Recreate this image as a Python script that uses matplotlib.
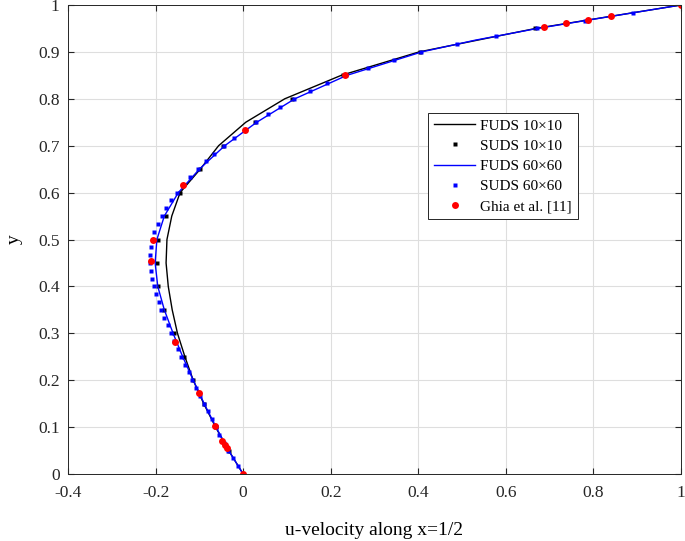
import numpy as np
import matplotlib.pyplot as plt

plt.rcParams['font.family'] = ['Liberation Serif', 'DejaVu Serif']

# Ghia et al. reference data (u along vertical centreline)
y_ghia = [0.0, 0.0547, 0.0625, 0.0703, 0.1016, 0.1719, 0.2813, 0.4531, 0.5,
          0.6172, 0.7344, 0.8516, 0.9531, 0.9609, 0.9688, 0.9766, 1.0]
u_ghia = [0.0, -0.0372, -0.0419, -0.0478, -0.0643, -0.1015, -0.1566, -0.2109, -0.2058,
          -0.1364, 0.0033, 0.2315, 0.6872, 0.7372, 0.7887, 0.8412, 1.0]

# FUDS 10x10 (black line)
y_f10 = [0.0, 0.05, 0.1, 0.15, 0.2, 0.25, 0.3, 0.35, 0.4, 0.45, 0.5, 0.55, 0.6, 0.65,
         0.7, 0.75, 0.8, 0.85, 0.9, 0.95, 1.0]
u_f10 = [0.0, -0.033, -0.063, -0.090, -0.114, -0.133, -0.150, -0.162, -0.171, -0.176,
         -0.174, -0.163, -0.144, -0.098, -0.056, 0.006, 0.095, 0.224, 0.402, 0.668, 1.0]

# SUDS 10x10 (black squares)
y_s10 = [0.05, 0.1, 0.15, 0.2, 0.25, 0.3, 0.35, 0.4, 0.45, 0.5, 0.55, 0.6, 0.65,
         0.7, 0.75, 0.8, 0.85, 0.9, 0.95]
u_s10 = [-0.032, -0.062, -0.089, -0.114, -0.136, -0.159, -0.181, -0.194, -0.197, -0.194,
         -0.176, -0.144, -0.098, -0.045, 0.028, 0.112, 0.228, 0.404, 0.667]

# FUDS 60x60 (blue line)
y_f60 = [0.0, 0.05, 0.1, 0.15, 0.2, 0.25, 0.3, 0.35, 0.4, 0.45, 0.5, 0.55, 0.6, 0.65,
         0.7, 0.75, 0.8, 0.85, 0.9, 0.925, 0.95, 0.975, 1.0]
u_f60 = [0.0, -0.033, -0.062, -0.089, -0.114, -0.138, -0.160, -0.180, -0.195, -0.201,
         -0.197, -0.180, -0.148, -0.100, -0.042, 0.031, 0.118, 0.237, 0.408, 0.530, 0.672,
         0.835, 1.0]

# SUDS 60x60 (blue squares)
y_s60 = [0.0167, 0.0333, 0.05, 0.0667, 0.0833, 0.1, 0.1167, 0.1333, 0.15, 0.1667,
         0.1833, 0.2, 0.2167, 0.2333, 0.25, 0.2667, 0.2833, 0.3, 0.3167, 0.3333,
         0.35, 0.3667, 0.3833, 0.4, 0.4167, 0.4333, 0.45, 0.4667, 0.4833, 0.5,
         0.5167, 0.5333, 0.55, 0.5667, 0.5833, 0.6, 0.6167, 0.6333, 0.65, 0.6667,
         0.6833, 0.7, 0.7167, 0.7333, 0.75, 0.7667, 0.7833, 0.8, 0.8167, 0.8333,
         0.85, 0.8667, 0.8833, 0.9, 0.9167, 0.9333, 0.95, 0.9667, 0.9833]
u_s60 = [-0.012, -0.023, -0.034, -0.044, -0.054, -0.063, -0.072, -0.081, -0.090, -0.099,
         -0.107, -0.116, -0.124, -0.133, -0.141, -0.149, -0.157, -0.164, -0.172, -0.180,
         -0.187, -0.193, -0.199, -0.204, -0.208, -0.211, -0.213, -0.213, -0.211, -0.207,
         -0.203, -0.195, -0.186, -0.176, -0.165, -0.152, -0.137, -0.121, -0.102, -0.085,
         -0.066, -0.043, -0.020, 0.004, 0.029, 0.056, 0.085, 0.116, 0.152, 0.192,
         0.235, 0.285, 0.344, 0.406, 0.489, 0.577, 0.672, 0.780, 0.890]

fig = plt.figure(figsize=(6.85, 5.41), dpi=100)
ax = fig.add_axes([68/685, 1-474/541, 613/685, 469/541])

ax.plot(u_f10, y_f10, color='k', lw=1.0, label='FUDS 10×10')
ax.plot(u_s10, y_s10, 's', color='k', ms=2.8, mec='none', label='SUDS 10×10')
ax.plot(u_f60, y_f60, color='b', lw=1.0, label='FUDS 60×60')
ax.plot(u_s60, y_s60, 's', color='b', ms=2.8, mec='none', label='SUDS 60×60')
ax.plot(u_ghia, y_ghia, 'o', color='r', ms=5, mec='none', label='Ghia et al. [11]')

ax.set_xlim(-0.4, 1)
ax.set_ylim(0, 1)
ax.set_xticks(np.arange(-0.4, 1.01, 0.2))
ax.set_yticks(np.arange(0, 1.01, 0.1))
ax.set_xticklabels(['-0.4', '-0.2', '0', '0.2', '0.4', '0.6', '0.8', '1'])
ax.set_yticklabels(['0', '0.1', '0.2', '0.3', '0.4', '0.5', '0.6', '0.7', '0.8', '0.9', '1'])
ax.grid(True, color='#dedede', lw=0.8)
ax.set_axisbelow(True)
ax.tick_params(direction='in', top=True, right=True, labelsize=12.5, colors='#262626',
               length=4, pad=6)
ax.tick_params(axis='x', pad=8)
for s in ax.spines.values():
    s.set_color('#262626')
    s.set_linewidth(0.7)

ax.set_xlabel('u-velocity along x=1/2', fontsize=14, labelpad=15)
ax.set_ylabel('y', fontsize=14)
ax.yaxis.set_label_coords(-0.074, 0.5)

leg = ax.legend(loc='upper left', bbox_to_anchor=(0.587, 0.770), fontsize=11,
                fancybox=False, edgecolor='#262626', framealpha=1, handlelength=2.7,
                borderpad=0.4, labelspacing=0.42, handletextpad=0.3, borderaxespad=0)
leg.get_frame().set_linewidth(0.7)

fig.savefig('out.png', dpi=100)
